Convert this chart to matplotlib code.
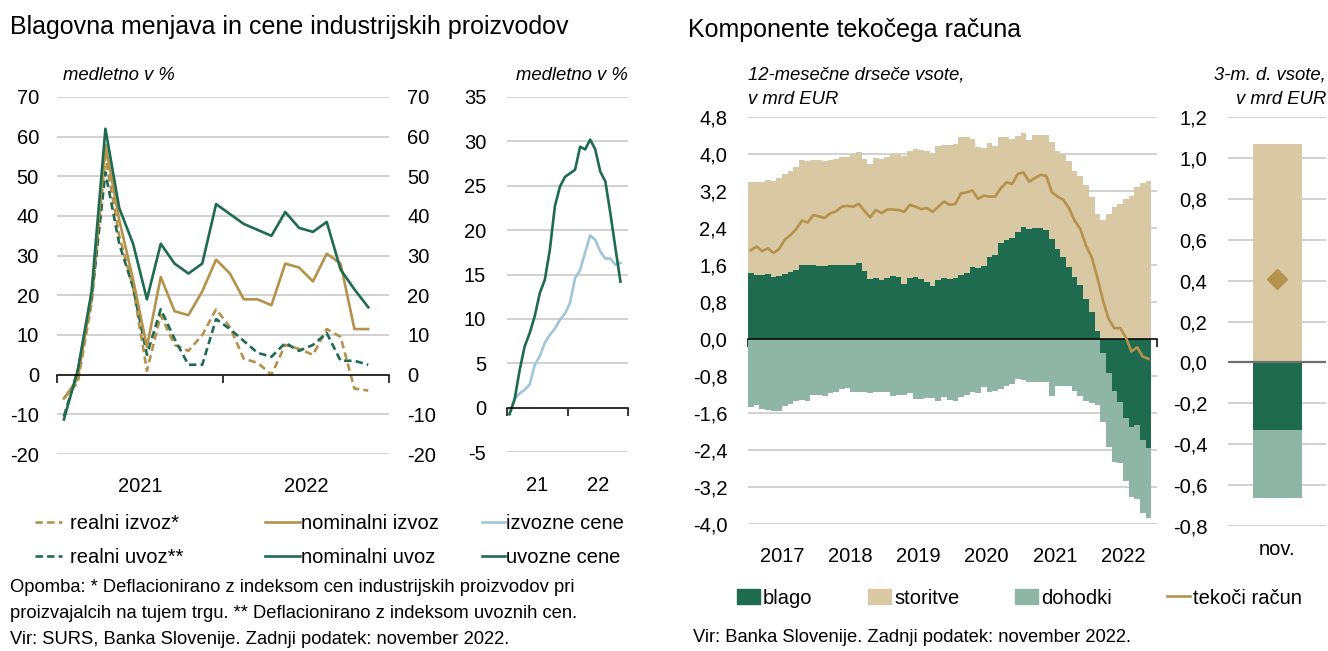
import numpy as np
import matplotlib

matplotlib.use("Agg")
import matplotlib.pyplot as plt
import matplotlib.transforms as mtransforms
from matplotlib.lines import Line2D
from matplotlib.patches import Patch
from matplotlib.ticker import FuncFormatter

plt.rcParams["font.family"] = ["Liberation Sans", "DejaVu Sans"]
plt.rcParams["axes.unicode_minus"] = False

GOLD = "#B5924C"
GREEN = "#1F6B50"
BEIGE = "#D8C8A4"
TEAL = "#8FB5A6"
LIGHTBLUE = "#9FC6D8"
GRID = "#C9C9C9"

# --- left panel: goods trade, y/y in %, monthly Jan 2021 - Nov 2022
trade_years = ["2021", "2022"]
real_exports = [-6, -2, 18, 55, 35, 22, 1, 15, 7.5, 6, 10, 16.5,
                12, 4, 3, 0, 7.5, 6.5, 5, 11.5, 9.5, -3.5, -4]
nominal_exports = [-6, -1, 20, 58, 39, 24, 7, 24.6, 16, 15, 21, 29,
                   25.5, 19, 19, 17.5, 28, 27, 23.5, 30.5, 28, 11.5, 11.5]
real_imports = [-10.5, 1, 19, 51, 33, 22, 5, 16.5, 9, 2.5, 2.5, 14,
                11.5, 8.5, 5.5, 4.5, 8, 6, 7.5, 10.5, 3.5, 3.5, 2.5]
nominal_imports = [-11.3, 1.1, 21, 62, 42, 33, 19, 33, 28, 25.5, 28, 43,
                   40.5, 38, 36.5, 35, 41, 37, 36, 38.5, 26.5, 21.5, 17]

# --- middle panel: producer prices, y/y in %
price_years = ["21", "22"]
export_prices = [-0.6, 1.0, 1.6, 2.0, 2.6, 4.8, 5.8, 7.3, 8.2, 8.9, 9.9, 10.6,
                 11.8, 14.6, 15.5, 17.5, 19.4, 18.9, 17.6, 16.8, 16.8, 16.1, 16.3]
import_prices = [-0.75, 0.9, 4.2, 6.9, 8.4, 10.3, 12.9, 14.4, 17.8, 22.7, 24.9, 26.0,
                 26.4, 26.8, 29.4, 29.1, 30.2, 29.1, 26.6, 25.5, 21.9, 18.0, 14.2]

# --- right panel: current account, 12-month sums, bn EUR, Jan 2017 - Nov 2022
ca_years = ["2017", "2018", "2019", "2020", "2021", "2022"]
goods = [1.42, 1.39, 1.39, 1.41, 1.35, 1.37, 1.41, 1.44, 1.49, 1.61, 1.61, 1.59,
         1.58, 1.57, 1.59, 1.59, 1.59, 1.59, 1.60, 1.64, 1.46, 1.30, 1.32, 1.28,
         1.32, 1.37, 1.33, 1.20, 1.32, 1.35, 1.30, 1.24, 1.15, 1.28, 1.32, 1.30,
         1.32, 1.39, 1.43, 1.56, 1.54, 1.57, 1.77, 1.82, 2.07, 2.15, 2.18, 2.31,
         2.43, 2.38, 2.39, 2.41, 2.36, 2.16, 1.95, 1.78, 1.55, 1.35, 1.17, 0.86,
         0.59, 0.17, -0.31, -0.74, -1.12, -1.37, -1.71, -1.91, -1.85, -2.18, -2.36]
services = [1.98, 2.01, 2.00, 2.03, 2.06, 2.11, 2.16, 2.20, 2.22, 2.25, 2.23, 2.27,
            2.28, 2.27, 2.29, 2.30, 2.34, 2.35, 2.40, 2.40, 2.43, 2.48, 2.59, 2.61,
            2.62, 2.64, 2.66, 2.76, 2.74, 2.76, 2.79, 2.83, 2.85, 2.90, 2.88, 2.90,
            2.90, 2.98, 2.93, 2.76, 2.62, 2.56, 2.47, 2.36, 2.30, 2.22, 2.14, 2.09,
            2.02, 1.92, 2.01, 2.01, 2.06, 2.11, 2.11, 2.23, 2.29, 2.29, 2.36, 2.48,
            2.49, 2.53, 2.58, 2.70, 2.86, 2.92, 3.03, 3.10, 3.28, 3.37, 3.41]
income = [-1.46, -1.42, -1.51, -1.53, -1.55, -1.55, -1.45, -1.41, -1.35, -1.32, -1.33, -1.21,
          -1.21, -1.23, -1.16, -1.14, -1.09, -1.07, -1.14, -1.14, -1.14, -1.16, -1.15, -1.15,
          -1.15, -1.23, -1.22, -1.20, -1.17, -1.29, -1.30, -1.28, -1.28, -1.33, -1.26, -1.32,
          -1.34, -1.26, -1.20, -1.14, -1.17, -1.03, -1.15, -1.12, -1.08, -1.01, -0.97, -0.86,
          -0.89, -0.94, -0.92, -0.92, -0.92, -1.23, -1.01, -1.01, -1.01, -1.12, -1.23, -1.35,
          -1.39, -1.42, -1.49, -1.59, -1.55, -1.32, -1.35, -1.50, -1.61, -1.59, -1.50]
current_account = [1.92, 2.00, 1.90, 1.96, 1.86, 1.95, 2.15, 2.25, 2.38, 2.56, 2.52, 2.68,
                   2.65, 2.62, 2.72, 2.76, 2.86, 2.88, 2.86, 2.92, 2.77, 2.63, 2.79, 2.72,
                   2.80, 2.80, 2.79, 2.75, 2.90, 2.86, 2.81, 2.83, 2.75, 2.86, 2.97, 2.90,
                   2.92, 3.15, 3.17, 3.21, 3.03, 3.10, 3.08, 3.08, 3.26, 3.39, 3.35, 3.57,
                   3.60, 3.40, 3.48, 3.55, 3.53, 3.17, 3.08, 3.01, 2.83, 2.56, 2.38, 2.02,
                   1.77, 1.33, 0.83, 0.43, 0.23, 0.24, 0.04, -0.27, -0.18, -0.38, -0.43]

# --- small panel: 3-month sums, bn EUR
q_label = ["nov."]
q_goods = [-0.33]
q_services = [1.07]
q_income = [-0.335]
q_current = [0.41]

W, H = 1328, 651


def fx(x):
    return x / W


def fy(y):
    return 1 - y / H


def box(x0, y0, x1, y1):
    return [fx(x0), fy(y1), fx(x1) - fx(x0), fy(y0) - fy(y1)]


def int_fmt(v, _):
    return f"{round(v):d}"


def dec_fmt(v, _):
    v = round(v, 1) + 0.0
    if abs(v) < 1e-9:
        v = 0.0
    return f"{v:.1f}".replace(".", ",")


def style(ax, yticks, fmt, grid=True):
    for s in ax.spines.values():
        s.set_visible(False)
    ax.set_yticks(yticks)
    ax.yaxis.set_major_formatter(FuncFormatter(fmt))
    ax.tick_params(axis="y", length=0, labelsize=14.5)
    if grid:
        ax.yaxis.grid(True, color=GRID, lw=1.2)
    ax.set_axisbelow(True)


def zero_axis(ax, edges, color="black"):
    sp = ax.spines["bottom"]
    sp.set_visible(True)
    sp.set_position(("data", 0))
    sp.set_color(color)
    sp.set_linewidth(1.1)
    ax.set_xticks(edges)
    ax.tick_params(axis="x", direction="out", length=5.5, width=1.1,
                   color=color, labelbottom=False)


def year_labels(ax, labels, y_off):
    tr = mtransforms.blended_transform_factory(ax.transData, ax.transAxes)
    for k, lab in enumerate(labels):
        ax.text(k * 12 + 5.5, y_off, lab, transform=tr, ha="center",
                va="center", fontsize=14.5)


fig = plt.figure(figsize=(W / 100, H / 100), dpi=100)

# ---------------- left panel
ax1 = fig.add_axes(box(57, 97, 389, 454))
t = np.arange(len(nominal_imports))
dash = (2.8, 1.6)
ax1.plot(t, real_exports, color=GOLD, lw=1.9, dashes=dash)
ax1.plot(t, real_imports, color=GREEN, lw=1.9, dashes=dash)
ax1.plot(t, nominal_exports, color=GOLD, lw=1.9)
ax1.plot(t, nominal_imports, color=GREEN, lw=1.9)
ax1.set_xlim(-0.5, 23.5)
ax1.set_ylim(-20, 70)
style(ax1, np.arange(-20, 71, 10), int_fmt)
ax1.tick_params(axis="y", labelleft=True, labelright=True, pad=13)
zero_axis(ax1, [-0.5, 11.5, 23.5])
year_labels(ax1, trade_years, -0.092)

# ---------------- middle panel
ax2 = fig.add_axes(box(507, 97, 628, 452))
tp = np.arange(len(import_prices))
ax2.plot(tp, export_prices, color=LIGHTBLUE, lw=1.9)
ax2.plot(tp, import_prices, color=GREEN, lw=1.9)
ax2.set_xlim(-0.5, 23.5)
ax2.set_ylim(-5, 35)
style(ax2, np.arange(-5, 36, 5), int_fmt)
ax2.tick_params(axis="y", pad=15)
zero_axis(ax2, [-0.5, 11.5, 23.5])
year_labels(ax2, price_years, -0.093)

# ---------------- right panel
ax3 = fig.add_axes(box(748, 117, 1157, 524))
m = np.arange(len(goods))
g = np.array(goods)
s_bottom = np.where(g > 0, g, 0)
i_bottom = np.where(g < 0, g, 0)
kw = dict(width=1.0, linewidth=0, antialiased=False)
ax3.bar(m, goods, color=GREEN, **kw)
ax3.bar(m, services, bottom=s_bottom, color=BEIGE, **kw)
ax3.bar(m, income, bottom=i_bottom, color=TEAL, **kw)
ax3.plot(m, current_account, color=GOLD, lw=1.9, zorder=6)
ax3.set_xlim(-0.5, 71.5)
ax3.set_ylim(-4.0, 4.8)
style(ax3, np.arange(-4.0, 4.81, 0.8), dec_fmt)
ax3.tick_params(axis="y", pad=15)
zero_axis(ax3, np.arange(-0.5, 72, 12))
year_labels(ax3, ca_years, -0.081)

# ---------------- small panel
ax4 = fig.add_axes(box(1228, 117, 1326, 526))
q = np.arange(len(q_label))
qg = np.array(q_goods)
ax4.bar(q, q_services, width=0.5, color=BEIGE, zorder=2)
ax4.bar(q, q_goods, width=0.5, color=GREEN, zorder=2)
ax4.bar(q, q_income, bottom=np.where(qg < 0, qg, 0), width=0.5, color=TEAL, zorder=2)
ax4.plot(q, q_current, marker="D", ms=10, color=GOLD, ls="none", zorder=4)
ax4.axhline(0, color="#6E6E6E", lw=1.6, zorder=3)
ax4.set_xlim(-0.5, 0.5)
ax4.set_ylim(-0.8, 1.2)
style(ax4, np.arange(-0.8, 1.21, 0.2), dec_fmt)
ax4.tick_params(axis="y", pad=15)
ax4.set_xticks(q)
ax4.set_xticklabels(q_label, fontsize=14.5)
ax4.tick_params(axis="x", length=0, pad=10)

# ---------------- texts
fig.text(fx(10), fy(27), "Blagovna menjava in cene industrijskih proizvodov",
         fontsize=18, va="center", ha="left")
fig.text(fx(688), fy(30), "Komponente tekočega računa",
         fontsize=18, va="center", ha="left")
ital = dict(fontsize=13.3, style="italic", va="center")
fig.text(fx(63), fy(75), "medletno v %", ha="left", **ital)
fig.text(fx(628), fy(75), "medletno v %", ha="right", **ital)
fig.text(fx(748), fy(75), "12-mesečne drseče vsote,", ha="left", **ital)
fig.text(fx(748), fy(100), "v mrd EUR", ha="left", **ital)
fig.text(fx(1326), fy(75), "3-m. d. vsote,", ha="right", **ital)
fig.text(fx(1326), fy(100), "v mrd EUR", ha="right", **ital)

note = dict(fontsize=13.2, va="center", ha="left")
fig.text(fx(10), fy(588),
         "Opomba: * Deflacionirano z indeksom cen industrijskih proizvodov pri", **note)
fig.text(fx(10), fy(614),
         "proizvajalcih na tujem trgu. ** Deflacionirano z indeksom uvoznih cen.", **note)
fig.text(fx(10), fy(640), "Vir: SURS, Banka Slovenije. Zadnji podatek: november 2022.", **note)
fig.text(fx(693), fy(638), "Vir: Banka Slovenije. Zadnji podatek: november 2022.", **note)

# ---------------- legends
leg_kw = dict(frameon=False, fontsize=14.5, loc="upper left", borderpad=0,
              borderaxespad=0, labelspacing=0.75)
fig.legend([Line2D([], [], color=GOLD, lw=1.9, dashes=dash),
            Line2D([], [], color=GREEN, lw=1.9, dashes=dash)],
           ["realni izvoz*", "realni uvoz**"], bbox_to_anchor=(fx(35), fy(514)),
           handlelength=1.35, handletextpad=0.4, **leg_kw)
fig.legend([Line2D([], [], color=GOLD, lw=1.9),
            Line2D([], [], color=GREEN, lw=1.9)],
           ["nominalni izvoz", "nominalni uvoz"], bbox_to_anchor=(fx(265), fy(514)),
           handlelength=1.75, handletextpad=0.05, **leg_kw)
fig.legend([Line2D([], [], color=LIGHTBLUE, lw=1.9),
            Line2D([], [], color=GREEN, lw=1.9)],
           ["izvozne cene", "uvozne cene"], bbox_to_anchor=(fx(482), fy(514)),
           handlelength=1.15, handletextpad=0.05, **leg_kw)

fig.legend([Patch(color=GREEN), Patch(color=BEIGE), Patch(color=TEAL),
            Line2D([], [], color=GOLD, lw=1.9)],
           ["blago", "storitve", "dohodki", "tekoči račun"],
           bbox_to_anchor=(fx(737), fy(598)), loc="center left", ncol=4,
           frameon=False, fontsize=14.5, borderpad=0, borderaxespad=0,
           handlelength=1.15, handletextpad=0.15, columnspacing=2.75)

fig.savefig("out.png", dpi=100)
